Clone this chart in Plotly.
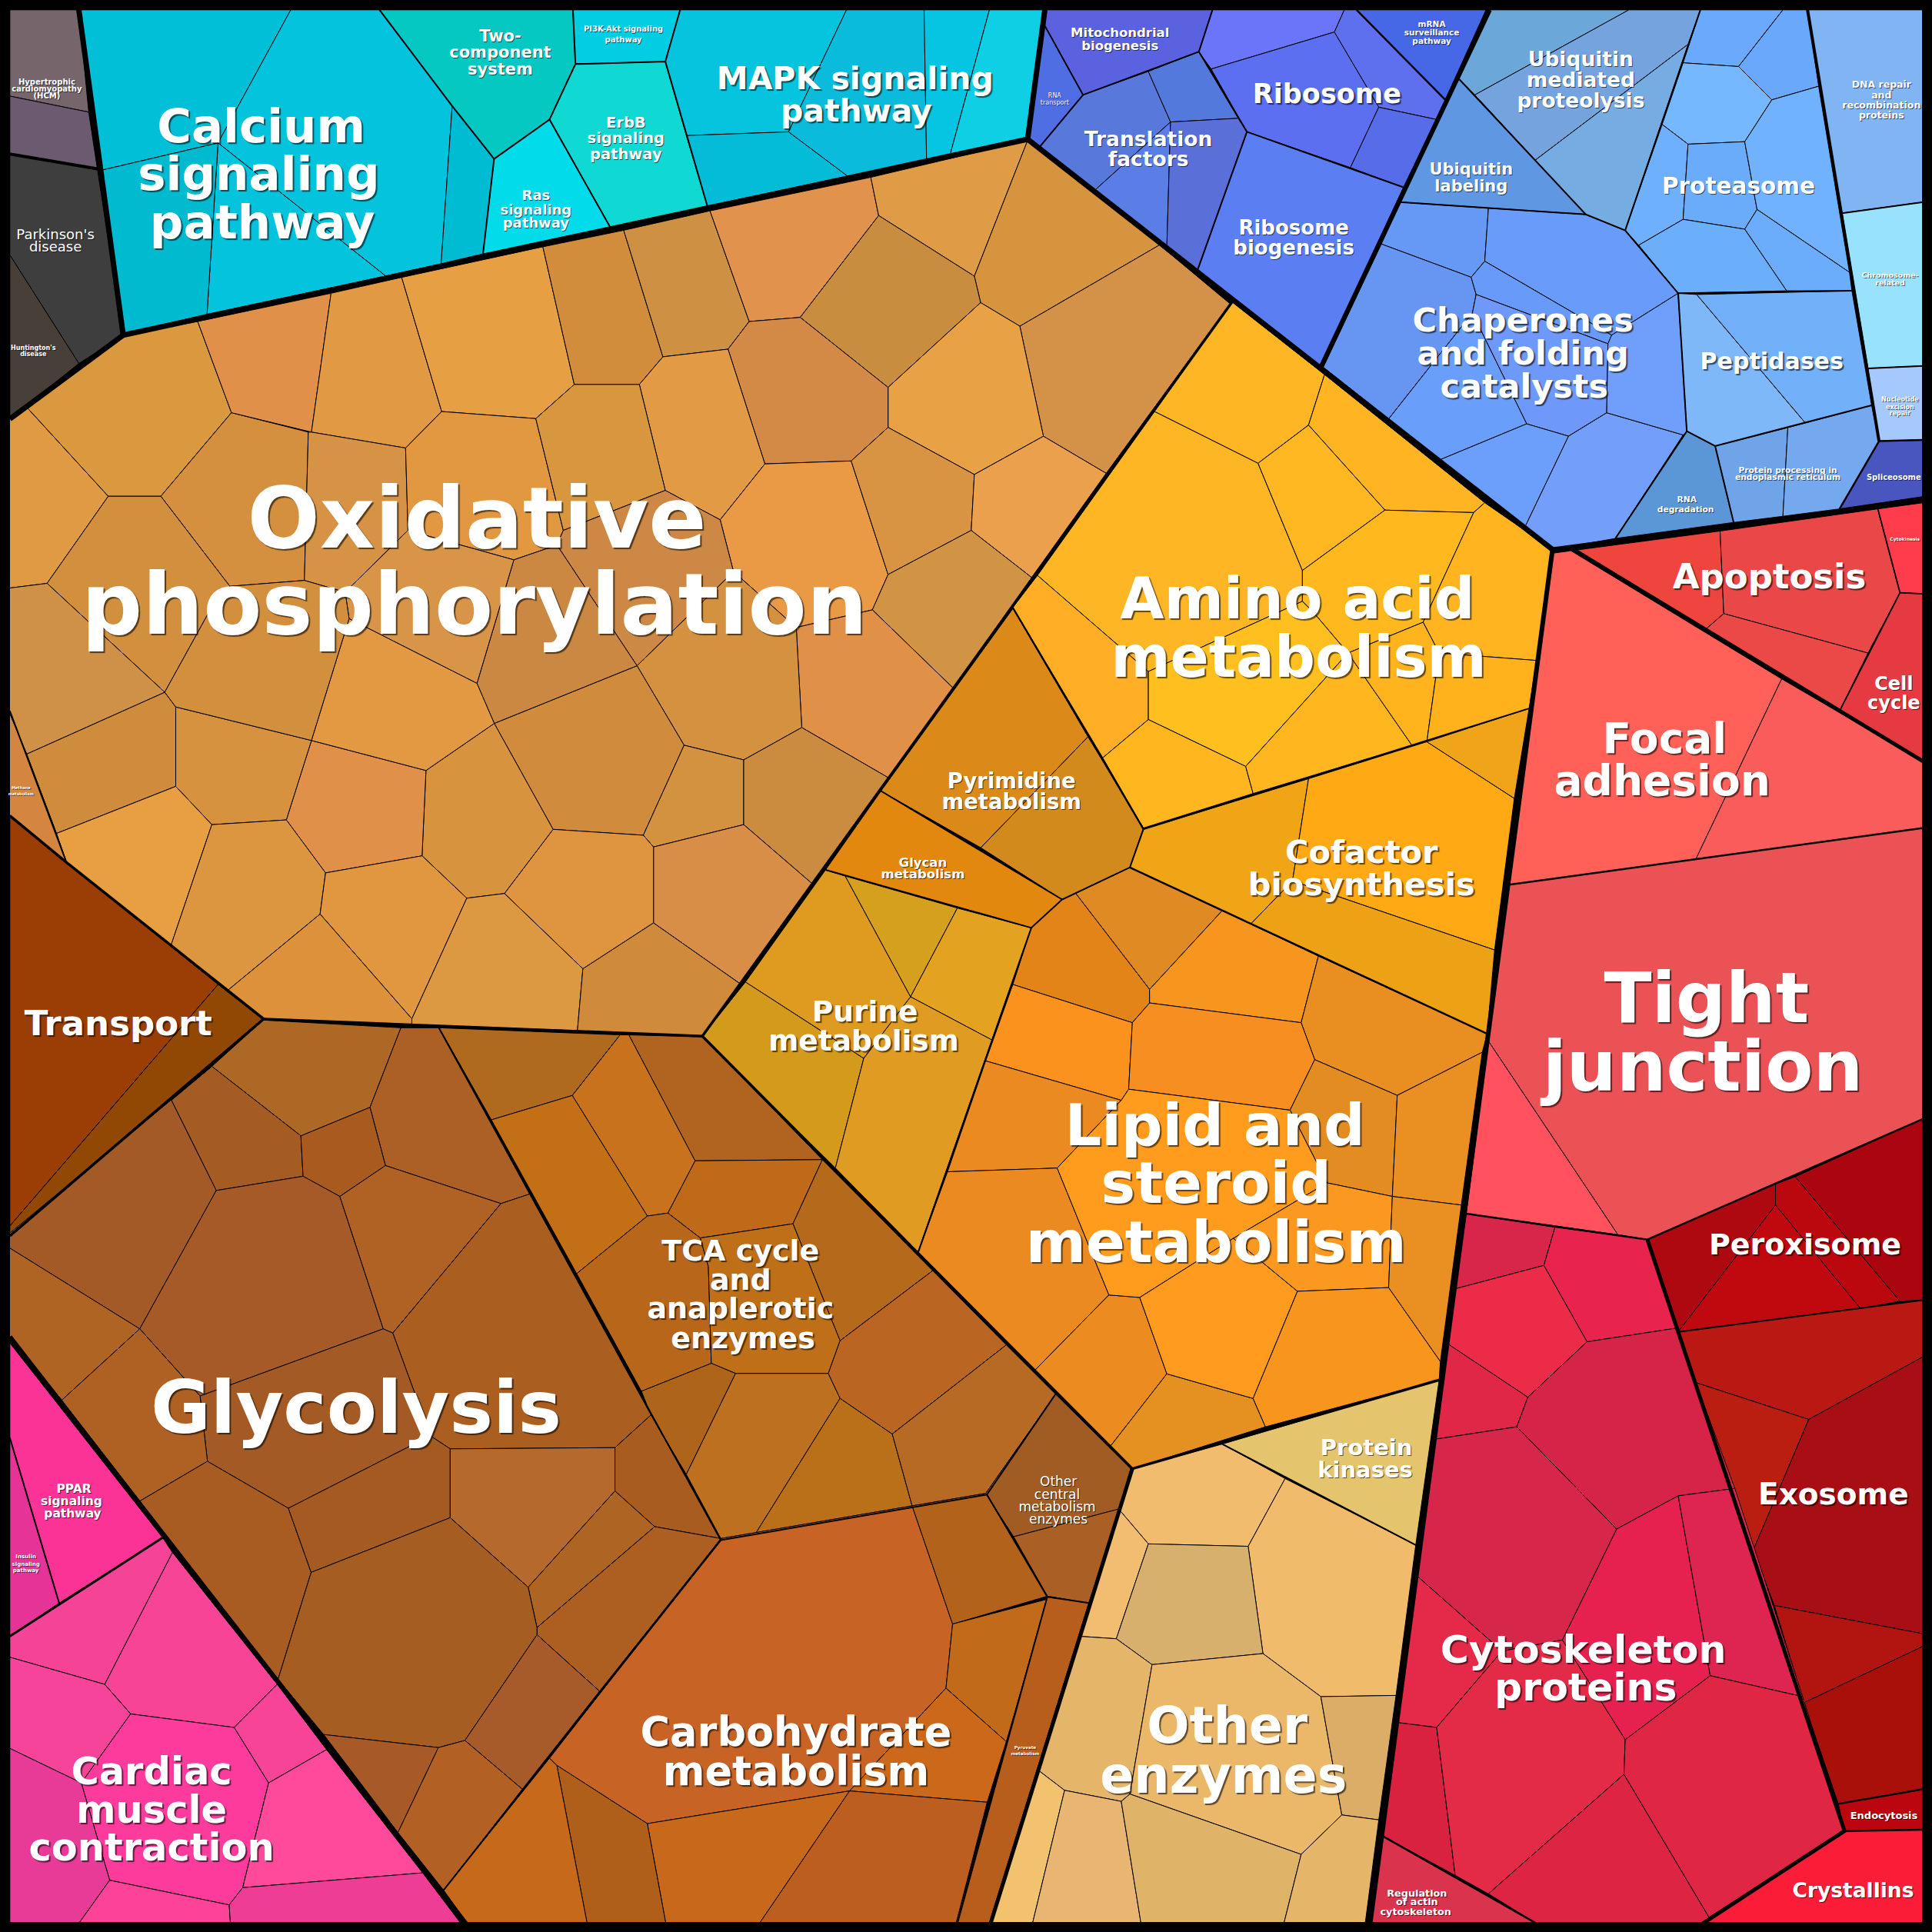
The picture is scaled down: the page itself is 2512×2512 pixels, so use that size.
import plotly.graph_objects as go

SIZE = 1568

# ---- Neurodegeneration / cardiomyopathy corner
disease_colors = ["#76666c", "#6c5a70", "#3e3e3e", "#483f38"]
disease_xy = [
    [(8,8),(64,8),(72,91),(8,78)],
    [(8,78),(72,91),(79,137),(8,125)],
    [(8,125),(79,137),(100,272),(64,295),(8,207)],
    [(8,207),(64,295),(8,340)],
]
# ---- Signalling
signal_colors = ["#00bfd6","#03c3dd","#00bcd3","#04c3dc","#00bad0","#06c8c2","#03cde3","#10d8d2","#02dcea",
                 "#06c4dd","#03bdd8","#0bbbdb","#06c5e2","#0ecfe4"]
signal_xy = [
    [(64,8),(236,8),(177,116),(83,138)],
    [(236,8),(308,8),(367,86),(358,214),(313,224),(177,116)],
    [(367,86),(401,129),(392,206),(358,214)],
    [(177,116),(313,224),(168,255)],
    [(83,138),(177,116),(168,255),(100,271)],
    [(308,8),(465,8),(467,52),(446,97),(401,129),(367,86)],
    [(465,8),(552,8),(540,50),(467,52)],
    [(467,52),(540,50),(574,167),(495,184),(446,97)],
    [(446,97),(495,184),(392,206),(401,129)],
    [(552,8),(687,8),(640,107),(557,110),(540,50)],
    [(557,110),(640,107),(688,143),(574,167)],
    [(687,8),(750,8),(752,130),(688,143),(640,107)],
    [(750,8),(803,8),(771,126),(752,130)],
    [(803,8),(848,8),(834,113),(771,126)],
]
# ---- Translation
transl_colors = ["#4f6ee4","#5a62e0","#5878dc","#5479dc","#5a7ee6","#5a70d8","#6b75fa","#5c6ff0","#5e70ee",
                 "#566ce8","#4668e6","#5b7ef2"]
transl_xy = [
    [(848,21),(879,77),(844,119),(834,113),(848,8)],
    [(849,8),(984,8),(973,42),(879,77),(848,21)],
    [(879,77),(932,58),(950,99),(889,154),(844,119)],
    [(932,58),(973,42),(1005,96),(950,99)],
    [(950,99),(947,200),(889,154)],
    [(950,99),(1005,96),(1012,107),(972,219),(947,200)],
    [(973,42),(984,8),(1091,8),(1083,26),(983,56)],
    [(983,56),(1083,26),(1119,87),(1096,136),(1012,107)],
    [(1091,8),(1101,8),(1173,81),(1166,97),(1119,87),(1083,26)],
    [(1119,87),(1166,97),(1139,152),(1096,136)],
    [(1101,8),(1206,8),(1173,81)],
    [(1012,107),(1139,152),(1072,297),(972,219)],
]
# ---- Folding, sorting and degradation
folding_colors = ["#6699f5","#699bfa","#6695f2","#689afa","#6e99fb","#6a9efb","#6c9efc","#739ffb","#6f9efb",
                  "#5f97e2","#6ca7d9","#74a3de","#75ade2",
                  "#6aa9fb","#6aa8fb","#75b8fe","#6fb0fd","#6bacfa","#70b2fd","#6badfa","#6baefa",
                  "#7eb8f9","#72b1f9","#6fa5e8","#75a9ef","#5b97d6","#80b4f2","#98e2fd","#a5c8fd","#4a56c0"]
folding_xy = [
    [(1136,164),(1208,169),(1205,212),(1194,225),(1121,198)],
    [(1208,169),(1287,174),(1319,187),(1362,238),(1308,272),(1205,212)],
    [(1121,198),(1194,225),(1198,239),(1195,254),(1127,340),(1074,298)],
    [(1205,212),(1308,272),(1305,279),(1198,239),(1194,225)],
    [(1198,239),(1305,279),(1304,335),(1273,354),(1239,344),(1195,254)],
    [(1195,254),(1239,344),(1169,373),(1127,340)],
    [(1239,344),(1273,354),(1238,427),(1169,373)],
    [(1273,354),(1304,335),(1366,353),(1311,437),(1260,446),(1238,427)],
    [(1308,272),(1362,238),(1369,350),(1366,353),(1304,335),(1305,279)],
    [(1184,64),(1287,174),(1136,164)],
    [(1209,8),(1322,8),(1197,77),(1184,64)],
    [(1322,8),(1380,8),(1370,36),(1246,130),(1197,77)],
    [(1370,36),(1319,187),(1287,174),(1246,130)],
    [(1380,8),(1447,8),(1411,54),(1366,51)],
    [(1447,8),(1467,8),(1476,70),(1438,81),(1411,54)],
    [(1366,51),(1411,54),(1438,81),(1416,115),(1370,117),(1349,101)],
    [(1349,101),(1370,117),(1366,178),(1330,199),(1319,187)],
    [(1370,117),(1416,115),(1426,170),(1416,186),(1366,178)],
    [(1438,81),(1476,70),(1501,221),(1426,170),(1416,115)],
    [(1426,170),(1501,221),(1503,236),(1450,236),(1416,186)],
    [(1366,178),(1416,186),(1450,236),(1362,238),(1330,199)],
    [(1362,238),(1377,239),(1465,343),(1392,362),(1369,350)],
    [(1377,239),(1503,236),(1519,329),(1465,343)],
    [(1392,362),(1451,347),(1447,419),(1407,424)],
    [(1451,347),(1519,329),(1525,358),(1493,413),(1447,419)],
    [(1369,350),(1392,362),(1407,424),(1311,437)],
    [(1467,8),(1561,8),(1561,164),(1495,173)],
    [(1495,173),(1561,164),(1561,297),(1516,299)],
    [(1516,299),(1561,297),(1561,357),(1525,358)],
    [(1525,358),(1561,357),(1561,403),(1493,413)],
]
# ---- Cell processes (reds)
red_colors = ["#ee463f","#ea4748","#eb4947","#ff3c4b","#e63a42","#ff6159","#f95c5a","#eb5256","#ff525e",
              "#ae0810","#c0090f","#bb080f","#ab0610",
              "#b91912","#b91e10","#a80f14","#b2150f","#a9100a","#bb0610","#fb1d38"]
red_xy = [
    [(1275,447),(1396,431),(1399,498),(1384,511)],
    [(1396,431),(1524,413),(1542,481),(1516,530),(1399,498)],
    [(1399,498),(1516,530),(1493,577),(1384,511)],
    [(1524,413),(1561,408),(1561,482),(1542,481)],
    [(1542,481),(1561,482),(1561,618),(1493,577)],
    [(1260,449),(1275,447),(1446,551),(1376,698),(1225,718)],
    [(1446,551),(1561,618),(1561,672),(1376,698)],
    [(1225,718),(1561,672),(1561,908),(1337,1006),(1313,1002),(1208,845)],
    [(1208,845),(1313,1002),(1190,985)],
    [(1337,1006),(1441,961),(1441,978),(1362,1081)],
    [(1362,1081),(1441,978),(1510,1062)],
    [(1441,961),(1457,955),(1542,1056),(1510,1062),(1441,978)],
    [(1457,955),(1561,908),(1561,1055),(1542,1056)],
    [(1362,1081),(1561,1055),(1561,1101),(1468,1152),(1376,1122)],
    [(1376,1122),(1468,1152),(1423,1258)],
    [(1468,1152),(1561,1101),(1561,1326),(1440,1303),(1423,1258)],
    [(1440,1303),(1561,1326),(1561,1336),(1464,1382)],
    [(1464,1382),(1561,1336),(1561,1452),(1492,1464)],
    [(1492,1464),(1561,1452),(1561,1485),(1497,1486)],
    [(1497,1486),(1561,1485),(1561,1561),(1382,1561)],
]
cyto_colors = ["#d8264a","#e7234e","#ec2b49","#e02748","#d62448","#e6214f","#de2450","#d6264a","#e42949",
               "#d92140","#e32b47","#dd2543","#df2745","#d9334e"]
cyto_xy = [
    [(1190,985),(1262,996),(1253,1027),(1181,1046)],
    [(1262,996),(1337,1006),(1360,1078),(1288,1089),(1253,1027)],
    [(1181,1046),(1253,1027),(1288,1089),(1240,1134),(1174,1090)],
    [(1174,1090),(1240,1134),(1231,1158),(1165,1168)],
    [(1288,1089),(1360,1078),(1408,1208),(1362,1214),(1312,1241),(1231,1158),(1240,1134)],
    [(1312,1241),(1362,1214),(1388,1360),(1319,1412),(1268,1331)],
    [(1362,1214),(1408,1208),(1463,1377),(1388,1360)],
    [(1150,1279),(1165,1168),(1231,1158),(1312,1241),(1268,1331),(1219,1340)],
    [(1150,1279),(1219,1340),(1166,1402),(1134,1398)],
    [(1134,1398),(1166,1402),(1181,1522),(1122,1490)],
    [(1166,1402),(1219,1340),(1268,1331),(1319,1412),(1318,1440),(1208,1537),(1181,1522)],
    [(1318,1440),(1387,1556),(1382,1561),(1247,1561),(1208,1537)],
    [(1319,1412),(1388,1360),(1463,1377),(1497,1486),(1387,1556),(1318,1440)],
    [(1122,1490),(1247,1561),(1112,1561)],
]
# ---- Other enzymes
other_colors = ["#e4c46d","#f2bc6e","#f1bb6c","#f2bd70","#d8b06e","#e5b56a","#ebb86a","#dcad66","#f2c26e",
                "#e9b573","#dfb468","#e5b56a"]
other_xy = [
    [(992,1172),(1168,1120),(1149,1254)],
    [(919,1192),(992,1172),(1043,1200),(1013,1255),(932,1253),(909,1226)],
    [(1043,1200),(1149,1254),(1133,1376),(1072,1377),(1025,1342),(1013,1255)],
    [(909,1226),(932,1253),(906,1330),(876,1328)],
    [(932,1253),(1013,1255),(1025,1342),(935,1351),(906,1330)],
    [(876,1328),(906,1330),(935,1351),(917,1456),(910,1462),(864,1453),(843,1437)],
    [(935,1351),(1025,1342),(1072,1377),(1089,1473),(1056,1505),(917,1456)],
    [(1072,1377),(1133,1376),(1119,1477),(1089,1473)],
    [(843,1437),(864,1453),(838,1561),(804,1561)],
    [(864,1453),(910,1462),(926,1561),(838,1561)],
    [(910,1462),(917,1456),(1056,1505),(1042,1561),(926,1561)],
    [(1056,1505),(1089,1473),(1119,1477),(1108,1561),(1042,1561)],
]
# ---- Lipid
lipid_colors = ["#e08a24","#e38419","#f6961f","#e98e21","#fb921d","#f68e22","#e38c22","#ea8a20","#ea8a20",
                "#ec8c20","#e59122","#ff9c1d","#ff9c20","#fb981f","#f8951c","#ea8f22","#ea8f22"]
lipid_xy = [
    [(873,725),(917,704),(992,739),(933,803)],
    [(862,730),(873,725),(933,803),(933,814),(919,830),(822,799),(837,753)],
    [(992,739),(1070,776),(1056,830),(933,814),(933,803)],
    [(1070,776),(1207,839),(1203,854),(1134,889),(1067,860),(1056,830)],
    [(822,799),(919,830),(916,884),(910,893),(800,861)],
    [(919,830),(933,814),(1056,830),(1067,860),(1047,901),(916,884)],
    [(1067,860),(1134,889),(1130,971),(1077,960),(1047,901)],
    [(800,861),(910,893),(858,948),(769,951)],
    [(769,951),(858,948),(900,1051),(840,1112),(745,1017)],
    [(900,1051),(925,1053),(947,1115),(901,1174),(840,1112)],
    [(947,1115),(1017,1135),(1027,1158),(919,1192),(901,1174)],
    [(858,948),(910,893),(916,884),(1047,901),(1077,960),(1001,1005),(925,1053),(900,1051)],
    [(925,1053),(1001,1005),(1053,1048),(1017,1135),(947,1115)],
    [(1001,1005),(1077,960),(1130,971),(1127,1045),(1053,1048)],
    [(1053,1048),(1127,1045),(1169,1105),(1168,1120),(1027,1158),(1017,1135)],
    [(1134,889),(1203,854),(1186,978),(1130,971)],
    [(1130,971),(1186,978),(1169,1105),(1127,1045)],
]
# ---- Amino acids, cofactors, nucleotides
amino_colors = ["#ffb624","#ffb624","#ffb522","#ffb822","#ffb91f","#ffb420","#ffae25","#ffbf1f","#ffb61f",
                "#ffb61f","#ffb31d","#ffb21b",
                "#f0a516","#ffa915","#f0a41a","#eda114",
                "#db8a1a","#d38a1c","#e3880f",
                "#df9b20","#d5a01d","#e3a320","#d39a1b","#e09b22"]
amino_xy = [
    [(1000,245),(1075,304),(1062,345),(1021,376),(937,334)],
    [(937,334),(1021,376),(1057,463),(1057,488),(932,545),(842,467)],
    [(1075,304),(1205,408),(1196,416),(1124,414),(1062,345)],
    [(1062,345),(1124,414),(1057,463),(1021,376)],
    [(1124,414),(1196,416),(1155,505),(1094,530),(1066,497),(1057,488),(1057,463)],
    [(1205,408),(1260,446),(1247,536),(1168,530),(1155,505),(1196,416)],
    [(842,467),(932,545),(932,584),(895,615),(822,493)],
    [(932,545),(1057,488),(1066,497),(1094,530),(1011,622),(932,584)],
    [(895,615),(932,584),(1011,622),(1017,644),(928,672)],
    [(1011,622),(1094,530),(1146,605),(1017,644)],
    [(1094,530),(1155,505),(1168,530),(1158,602),(1146,605)],
    [(1168,530),(1247,536),(1241,575),(1158,602)],
    [(928,673),(1062,632),(1049,715),(1015,750),(917,704)],
    [(1062,632),(1158,602),(1229,648),(1213,771),(1049,715)],
    [(1158,602),(1241,575),(1229,648)],
    [(1049,715),(1213,771),(1207,839),(1015,750)],
    [(822,494),(883,598),(796,688),(715,642)],
    [(883,598),(928,672),(917,704),(862,730),(796,688)],
    [(715,642),(862,730),(837,753),(670,706)],
    [(670,706),(686,711),(739,809),(701,859),(605,797)],
    [(686,711),(777,737),(739,809)],
    [(777,737),(837,753),(805,844),(739,809)],
    [(605,797),(701,859),(678,948),(570,841)],
    [(701,859),(739,809),(805,844),(745,1016),(678,948)],
]
# ---- Oxidative phosphorylation, in the units of a 1600x1200 crop at (0,200) shown at 1568x1568
oxphos_colors = ["#e19a44","#da983f","#d4903f","#e1904a","#e19a43","#e79f43","#d18c3c","#ce9143","#e1924d","#df9b45",
                 "#d6943f","#c98d40","#d49248","#e8a144","#d38a47","#e29a44","#ea9a45","#d99443","#eaa04d","#d19445",
                 "#e19048","#d49240","#d08c3c","#d3923f","#cb8c40","#d98e48","#df943f","#d8933f","#e19049","#d7923f",
                 "#cf8c3d","#e79f41","#dd9640","#e19640","#dd913b","#dd9842","#cf8a3b","#d2903f","#cf9148","#d79345",
                 "#e29741","#d8963f","#cc8844","#cb8842","#d89548","#e39942","#d2903f","#d4853f"]
oxphos_xy = [
    [(12,450),(35,432),(138,582),(60,730),(12,738)],
    [(35,432),(158,308),(252,285),(295,440),(205,582),(138,582)],
    [(205,582),(295,440),(393,473),(388,725),(293,735)],
    [(252,285),(422,237),(397,473),(295,440)],
    [(422,237),(512,210),(563,438),(517,500),(397,473)],
    [(512,210),(692,158),(732,392),(683,450),(563,438)],
    [(692,158),(795,130),(845,345),(815,392),(732,392)],
    [(795,130),(905,97),(955,285),(928,332),(845,345)],
    [(905,97),(1110,40),(1120,105),(1020,278),(955,285)],
    [(1110,40),(1310,-23),(1242,208),(1120,105)],
    [(1310,-23),(1478,155),(1300,293),(1250,253),(1242,208)],
    [(1120,105),(1242,208),(1250,253),(1132,397),(1020,278)],
    [(1300,293),(1478,155),(1568,255),(1410,543),(1330,480)],
    [(1250,253),(1300,293),(1330,480),(1242,545),(1132,465),(1132,397)],
    [(1020,278),(1132,397),(1132,465),(1085,522),(975,527),(928,332),(955,285)],
    [(845,345),(928,332),(975,527),(918,622),(848,572),(815,392)],
    [(918,622),(975,527),(1085,522),(1132,715),(1112,775),(1015,805),(935,710)],
    [(1085,522),(1132,465),(1242,545),(1238,640),(1132,715)],
    [(1242,545),(1330,480),(1410,543),(1315,720),(1238,640)],
    [(1132,715),(1238,640),(1315,720),(1215,908),(1112,775)],
    [(1015,805),(1112,775),(1215,908),(1132,1060),(1022,975)],
    [(935,710),(1015,805),(1022,975),(948,1030),(872,1005),(812,870)],
    [(812,870),(872,1005),(820,1158),(705,1148),(630,968)],
    [(872,1005),(948,1030),(948,1140),(833,1178),(820,1158)],
    [(948,1030),(1022,975),(1132,1060),(1035,1240),(948,1140)],
    [(833,1178),(948,1140),(1035,1240),(943,1410),(833,1307)],
    [(705,1148),(820,1158),(833,1178),(833,1307),(743,1385),(643,1257)],
    [(630,968),(705,1148),(643,1257),(595,1265),(538,1193),(543,1048)],
    [(397,997),(543,1048),(538,1193),(415,1222),(365,1132)],
    [(224,940),(397,997),(365,1132),(270,1140),(224,1075)],
    [(34,1020),(210,915),(224,940),(224,1075),(72,1155)],
    [(72,1155),(224,1075),(270,1140),(218,1345),(85,1205)],
    [(270,1140),(365,1132),(415,1222),(408,1292),(290,1422),(218,1345)],
    [(415,1222),(538,1193),(595,1265),(525,1470),(408,1292)],
    [(290,1422),(408,1292),(525,1470),(525,1480),(335,1470)],
    [(595,1265),(643,1257),(743,1385),(736,1490),(525,1480),(525,1470)],
    [(743,1385),(833,1307),(943,1410),(895,1500),(736,1490)],
    [(60,730),(138,582),(205,582),(293,735),(270,770),(210,915)],
    [(12,738),(60,730),(210,915),(34,1020),(12,950)],
    [(388,725),(440,745),(520,640),(517,500),(397,473),(393,473)],
    [(517,500),(563,438),(683,450),(718,640),(710,665),(655,690),(520,640)],
    [(683,450),(732,392),(815,392),(848,572),(718,640)],
    [(710,665),(718,640),(848,572),(918,622),(935,710),(812,870)],
    [(655,690),(710,665),(812,870),(630,968),(608,900)],
    [(440,745),(520,640),(655,690),(608,900),(445,790)],
    [(608,900),(630,968),(543,1048),(397,997),(445,790)],
    [(293,735),(388,725),(440,745),(445,790),(397,997),(224,940),(210,915),(270,770)],
    [(12,950),(34,1020),(72,1155),(85,1205),(12,1125)],
]
# ---- Transport
transport_colors = ["#9a3e06", "#924805"]
transport_xy = [
    [(8,662),(177,799),(8,995)],
    [(177,799),(213,827),(8,1003),(8,995)],
]
# ---- Glycolysis, TCA, carbohydrate, in the units of a 1500x1212 crop at (0,1300) shown at 1568x1568
brown_colors = ["#ae6825","#ac6026","#a45c22","#a85a1f","#a35a26","#a55a27","#b06224","#aa5e20","#a45a25","#b06424",
                "#ae6123","#a85c22","#a45a20","#b5692c","#a85c20","#ae6422","#ac5f20","#a65d22","#a75a2a","#a75a28",
                "#b36024",
                "#b06a1e","#c8721e","#b06420","#c26f16","#bf6a18","#b46a1a","#b8661a","#be6f18","#ae651a","#bc7020",
                "#ba7018","#ba6622","#b76a24",
                "#a05c22","#aa5f24",
                "#c76325","#b2621a","#c06a1a","#cc681a","#c7681a","#bb5e20","#b05f1a","#c6691a","#b85e1c"]
brown_xy = [
    [(358,35),(545,48),(503,182),(409,230),(288,113)],
    [(545,48),(597,48),(720,328),(681,344),(524,280),(503,182)],
    [(288,113),(409,230),(412,298),(294,322),(233,170)],
    [(409,230),(503,182),(524,280),(462,332),(412,298)],
    [(233,170),(294,322),(190,555),(12,418),(12,395),(288,113)],
    [(294,322),(412,298),(462,332),(521,555),(272,668),(190,555)],
    [(462,332),(524,280),(681,344),(534,562),(521,555)],
    [(681,344),(720,328),(885,700),(836,755),(612,757),(585,735),(534,562)],
    [(272,668),(521,555),(534,562),(585,735),(392,857),(282,778)],
    [(12,418),(190,555),(84,675),(12,565)],
    [(190,555),(272,668),(282,778),(190,845),(84,675)],
    [(282,778),(392,857),(423,965),(378,1145),(190,845)],
    [(392,857),(585,735),(612,757),(612,873),(423,965)],
    [(612,757),(836,755),(836,828),(718,990),(612,873)],
    [(836,755),(885,700),(980,908),(890,888),(836,828)],
    [(836,828),(890,888),(730,1058),(718,990)],
    [(890,888),(980,908),(815,1165),(730,1070),(730,1058)],
    [(423,965),(612,873),(718,990),(730,1058),(730,1070),(632,1248),(596,1260),(440,1238),(378,1145)],
    [(730,1070),(815,1165),(710,1330),(632,1248)],
    [(440,1238),(596,1260),(541,1403)],
    [(596,1260),(632,1248),(710,1330),(603,1500),(541,1403)],
    [(597,48),(843,60),(778,162),(668,203)],
    [(778,162),(843,60),(855,60),(945,272),(908,360),(880,365)],
    [(855,60),(955,63),(1118,270),(945,272)],
    [(668,203),(778,162),(880,365),(784,462)],
    [(945,272),(1118,270),(1078,378),(952,402),(908,360)],
    [(1118,270),(1268,457),(1142,575),(1078,378)],
    [(784,462),(880,365),(908,360),(952,402),(963,450),(967,613),(872,660)],
    [(952,402),(1078,378),(1142,575),(1126,630),(1000,630),(967,613),(963,450)],
    [(872,660),(967,613),(1000,630),(933,800),(885,700)],
    [(1000,630),(1126,630),(1142,672),(1028,898),(980,908),(933,800)],
    [(1142,672),(1213,732),(1240,853),(1028,898)],
    [(1126,630),(1142,575),(1268,457),(1368,582),(1213,732),(1142,672)],
    [(1213,732),(1368,582),(1435,665),(1340,832),(1240,853)],
    [(1435,665),(1537,790),(1522,858),(1378,905),(1340,832)],
    [(1378,905),(1522,858),(1480,1017),(1424,1005)],
    [(980,908),(1240,853),(1295,1052),(1286,1160),(1155,1333),(880,1388),(757,1290),(747,1278)],
    [(1240,853),(1340,832),(1424,1005),(1295,1052)],
    [(1295,1052),(1424,1010),(1368,1250),(1286,1160)],
    [(1286,1160),(1368,1250),(1342,1352),(1155,1333)],
    [(880,1388),(1155,1333),(1033,1555),(905,1555)],
    [(1155,1333),(1342,1352),(1300,1555),(1033,1555)],
    [(757,1290),(880,1388),(905,1555),(798,1555)],
    [(747,1278),(757,1290),(798,1555),(635,1555),(603,1500)],
    [(1424,1005),(1480,1017),(1345,1555),(1300,1555)],
]
# ---- Pink
pink_colors = ["#fb3396","#e63398","#f54398","#f84497","#f6449a","#f74398","#fd3b9c","#ff4a9b","#e83b97","#fd4299","#ee3d95"]
pink_xy = [
    [(8,1090),(132,1248),(48,1301),(8,1167)],
    [(8,1167),(48,1301),(8,1328)],
    [(8,1328),(132,1248),(140,1260),(85,1367),(8,1345)],
    [(140,1260),(225,1367),(190,1402),(106,1391),(85,1367)],
    [(8,1345),(85,1367),(106,1391),(66,1447),(8,1419)],
    [(225,1367),(265,1420),(218,1447),(190,1402)],
    [(106,1391),(190,1402),(218,1447),(197,1532),(186,1546),(89,1526),(66,1447)],
    [(265,1420),(343,1520),(197,1532),(218,1447)],
    [(8,1419),(66,1447),(89,1526),(64,1561),(8,1561)],
    [(89,1526),(186,1546),(187,1561),(64,1561)],
    [(186,1546),(197,1532),(343,1520),(374,1561),(187,1561)],
]


def from_oxphos_crop(pts):
    return [(x * 0.6367, 124.8 + y * 0.4776) for x, y in pts]


def from_brown_crop(pts):
    return [(x * 0.597, 811 + y * 0.482) for x, y in pts]


all_cells = (
    list(zip(disease_colors, disease_xy)) + list(zip(signal_colors, signal_xy))
    + list(zip(transl_colors, transl_xy)) + list(zip(folding_colors, folding_xy))
    + list(zip(red_colors, red_xy)) + list(zip(cyto_colors, cyto_xy))
    + list(zip(other_colors, other_xy)) + list(zip(lipid_colors, lipid_xy))
    + list(zip(amino_colors, amino_xy))
    + [(c, from_oxphos_crop(p)) for c, p in zip(oxphos_colors, oxphos_xy)]
    + list(zip(transport_colors, transport_xy))
    + [(c, from_brown_crop(p)) for c, p in zip(brown_colors, brown_xy)]
    + list(zip(pink_colors, pink_xy))
)

# Group boundaries: (line width, path)
boundaries = [
    (2,[(308,8),(367,86),(401,129),(392,206)]), (2,[(401,129),(446,97),(495,184)]),
    (2,[(446,97),(467,52),(540,50),(574,167)]), (2,[(465,8),(467,52)]), (2,[(552,8),(540,50)]),
    (2,[(848,21),(879,77),(844,119)]), (2,[(984,8),(973,42),(879,77)]),
    (2,[(973,42),(1012,107),(972,219)]), (2,[(1012,107),(1139,152)]), (2.5,[(1101,8),(1173,81)]),
    (2,[(1136,164),(1287,174),(1319,187),(1362,238),(1369,350),(1311,437)]),
    (2,[(1362,238),(1503,236)]), (2,[(1369,350),(1392,362),(1519,329)]), (2,[(1392,362),(1407,424)]),
    (2,[(1495,173),(1561,164)]), (2,[(1516,299),(1561,297)]), (2.5,[(1525,358),(1561,357)]),
    (2,[(1184,64),(1287,174)]), (2,[(1380,8),(1319,187)]), (2.5,[(1525,358),(1493,413)]),
    (1.8,[(1524,413),(1542,481),(1493,577)]), (1.8,[(1542,481),(1561,482)]),
    (2.5,[(1225,718),(1561,672)]), (2.5,[(1190,985),(1337,1006),(1561,908)]),
    (2,[(1362,1081),(1561,1055)]), (2.5,[(1492,1464),(1561,1452)]), (2.5,[(1497,1486),(1561,1485)]),
    (2.5,[(1122,1490),(1247,1561)]), (2,[(992,1172),(1149,1254)]),
    (2,[(822,493),(928,673),(917,704),(862,730),(837,753),(745,1017)]),
    (2,[(715,642),(862,730)]), (2,[(670,706),(837,753)]), (2,[(928,673),(1241,575)]),
    (2.5,[(917,704),(1207,839)]),
    (2,[(356,834),(585,1250),(360,1534)]), (2,[(585,1250),(801,1213),(850,1296),(777,1561)]),
    (2,[(801,1213),(857,1131)]), (2,[(850,1296),(884,1301)]),
    (3,[(8,1328),(132,1248)]), (2,[(8,1167),(48,1301)]),
    (4,[(8,125),(79,137)]),
    (3.5,[(1000,245),(570,841)]), (3.5,[(214,827),(570,841),(919,1192),(1168,1120)]),
    (3.5,[(8,662),(54,700),(214,827),(8,1003)]), (2,[(8,577),(54,700)]),
    (5,[(1277,446),(1561,618)]), (5,[(1337,1006),(1497,1486),(1382,1561)]),
    (5,[(919,1192),(804,1561)]), (4,[(1467,8),(1525,358)]),
    (6,[(8,1085),(378,1561)]),
    (7,[(64,8),(100,272),(834,113),(848,8)]), (7,[(8,340),(100,272)]), (7,[(834,113),(1260,446)]),
    (6,[(1209,8),(1072,298)]), (6,[(1260,446),(1112,1561)]), (6,[(1260,446),(1561,406)]),
]

# text, centre x, centre y, font size, weight
labels = [
    ("Oxidative",387,421,111,700),("phosphorylation",385,491,111,700),
    ("Glycolysis",289,1143,95,700),("Tight",1385,810,91,700),("junction",1382,866,91,700),
    ("Lipid and",986,913,75,700),("steroid",987,960,75,700),("metabolism",987,1008,75,700),
    ("Amino acid",1053,486,74,700),("metabolism",1054,533,74,700),
    ("Calcium",212,102,61,700),("signaling",210,141,61,700),("pathway",213,180,61,700),
    ("MAPK signaling",694,63,41,700),("pathway",695,89,41,700),
    ("Two-",406,28,21,700),("component",406,41.5,21,700),("system",406,55,21,700),
    ("PI3K-Akt signaling",506,22,10,700),("pathway",506,31,10,700),
    ("ErbB",508,98,19.5,700),("signaling",508,111,19.5,700),("pathway",508,124,19.5,700),
    ("Ras",435,157,18,700),("signaling",435,169,18,700),("pathway",435,180,18,700),
    ("Hypertrophic",38,65,10,700),("cardiomyopathy",38,71,10,700),("(HCM)",38,76.5,10,700),
    ("Parkinson's",45,189,18,400),("disease",45,199,18,400),
    ("Huntington's",27,281,8,700),("disease",27,286,8,700),
    ("Mitochondrial",909,25,16.5,700),("biogenesis",909,36,16.5,700),
    ("RNA",856,76,8,400),("transport",856,82,8,400),
    ("Translation",932,112,26.5,700),("factors",932,128,26.5,700),
    ("Ribosome",1077,75,35,700),
    ("mRNA",1162,18,10.5,700),("surveillance",1162,25,10.5,700),("pathway",1162,32,10.5,700),
    ("Ribosome",1050,184,26,700),("biogenesis",1050,200,26,700),
    ("Ubiquitin",1283,47,26.5,700),("mediated",1283,64,26.5,700),("proteolysis",1283,81,26.5,700),
    ("Ubiquitin",1194,136,21,700),("labeling",1194,150,21,700),
    ("Proteasome",1411,150,29.5,700),
    ("DNA repair",1527,67,12.5,700),("and",1527,76,12.5,700),("recombination",1527,84,12.5,700),("proteins",1527,92,12.5,700),
    ("Chromosome-",1534,222,9.5,700),("related",1534,228,9.5,700),
    ("Nucleotide",1542,323,8,700),("excision",1542,329,8,700),("repair",1542,334,8,700),
    ("Spliceosome",1537,386,10,700),
    ("Chaperones",1236,259,43,700),("and folding",1236,286,43,700),("catalysts",1237,313,43,700),
    ("Peptidases",1438,292,30,700),
    ("Protein processing in",1451,380,10.7,700),("endoplasmic reticulum",1451,386,10.7,700),
    ("RNA",1369,404,10.7,700),("degradation",1368,412,10.7,700),
    ("Apoptosis",1436,467,45,700),("Cytokinesis",1546,436,6,700),
    ("Cell",1537,554,24,700),("cycle",1537,569,24,700),
    ("Focal",1351,599,55,700),("adhesion",1349,633,55,700),
    ("Protein",1109,1174,29,700),("kinases",1108,1192,29,700),
    ("Other",996,1400,65,700),("enzymes",993,1441,65,700),
    ("Cofactor",1105,691,41.5,700),("biosynthesis",1105,717,41.5,700),
    ("Pyrimidine",821,633,27.5,700),("metabolism",821,650,27.5,700),
    ("Glycan",749,699,16.5,700),("metabolism",749,708,16.5,700),
    ("Purine",702,820,37.5,700),("metabolism",701,844,37.5,700),
    ("Transport",96,830,45,700),
    ("TCA cycle",601,1014,38,700),("and",601,1038,38,700),("anaplerotic",601,1061,38,700),("enzymes",603,1085,38,700),
    ("Other",859,1201,17,400),("central",858,1212,17,400),("metabolism",858,1222,17,400),("enzymes",859,1232,17,400),
    ("Carbohydrate",646,1405,52.5,700),("metabolism",646,1437,52.5,700),
    ("Pyruvate",832,1417,5.6,700),("metabolism",832,1422,5.6,700),
    ("Methane",17,638,5,700),("metabolism",17,643,5,700),
    ("PPAR",60,1207,15.5,700),("signaling",58,1217,15.5,700),("pathway",59,1227,15.5,700),
    ("Insulin",21,1262,7,700),("signaling",21,1268,7,700),("pathway",21,1273,7,700),
    ("Cardiac",123,1437,49.5,700),("muscle",123,1468,49.5,700),("contraction",123,1499,49.5,700),
    ("Cytoskeleton",1285,1338,50.5,700),("proteins",1287,1369,50.5,700),
    ("Regulation",1150,1535,12.8,700),("of actin",1150,1542,12.8,700),("cytoskeleton",1149,1550,12.8,700),
    ("Endocytosis",1529,1472,13,700),("Crystallins",1504,1533,26.5,700),
    ("Peroxisome",1465,1009,38,700),("Exosome",1488,1212,39,700),
]

fig = go.Figure()

for color, pts in all_cells:
    xs = [p[0] for p in pts] + [pts[0][0]]
    ys = [p[1] for p in pts] + [pts[0][1]]
    fig.add_trace(go.Scatter(x=xs, y=ys, mode="lines", fill="toself", fillcolor=color,
                             line=dict(color="#000000", width=1), hoverinfo="skip", showlegend=False))

for width, path in boundaries:
    fig.add_trace(go.Scatter(x=[p[0] for p in path], y=[p[1] for p in path], mode="lines",
                             line=dict(color="#000000", width=width), hoverinfo="skip", showlegend=False))

# Black frame around the treemap
frame_x = [0, SIZE, SIZE, 0, 0]
frame_y = [0, 0, SIZE, SIZE, 0]
fig.add_trace(go.Scatter(x=frame_x, y=frame_y, mode="lines", line=dict(color="#000000", width=26),
                         hoverinfo="skip", showlegend=False))

for big, shadow in ((True, "2px 2px 1px rgba(0,0,0,0.6)"), (False, "1px 1px 0px rgba(0,0,0,0.6)")):
    for weight in (400, 700):
        sel = [l for l in labels if (l[3] >= 30) == big and l[4] == weight]
        if not sel:
            continue
        fig.add_trace(go.Scatter(
            x=[l[1] for l in sel], y=[l[2] + 1.5 + l[3] * 0.04 for l in sel], text=[l[0] for l in sel],
            mode="text", textposition="middle center", hoverinfo="skip", showlegend=False,
            textfont=dict(family="DejaVu Sans", size=[l[3] for l in sel], color="#ffffff",
                          weight=weight, shadow=shadow),
        ))

fig.update_layout(
    width=2512, height=2512, margin=dict(l=0, r=0, t=0, b=0),
    paper_bgcolor="#000000", plot_bgcolor="#000000",
    xaxis=dict(range=[0, SIZE], visible=False, fixedrange=True),
    yaxis=dict(range=[SIZE, 0], visible=False, fixedrange=True),
)
fig.write_html("out.html", config=dict(displayModeBar=False),
               post_script="document.body.style.margin='0';document.body.style.background='#000';")
